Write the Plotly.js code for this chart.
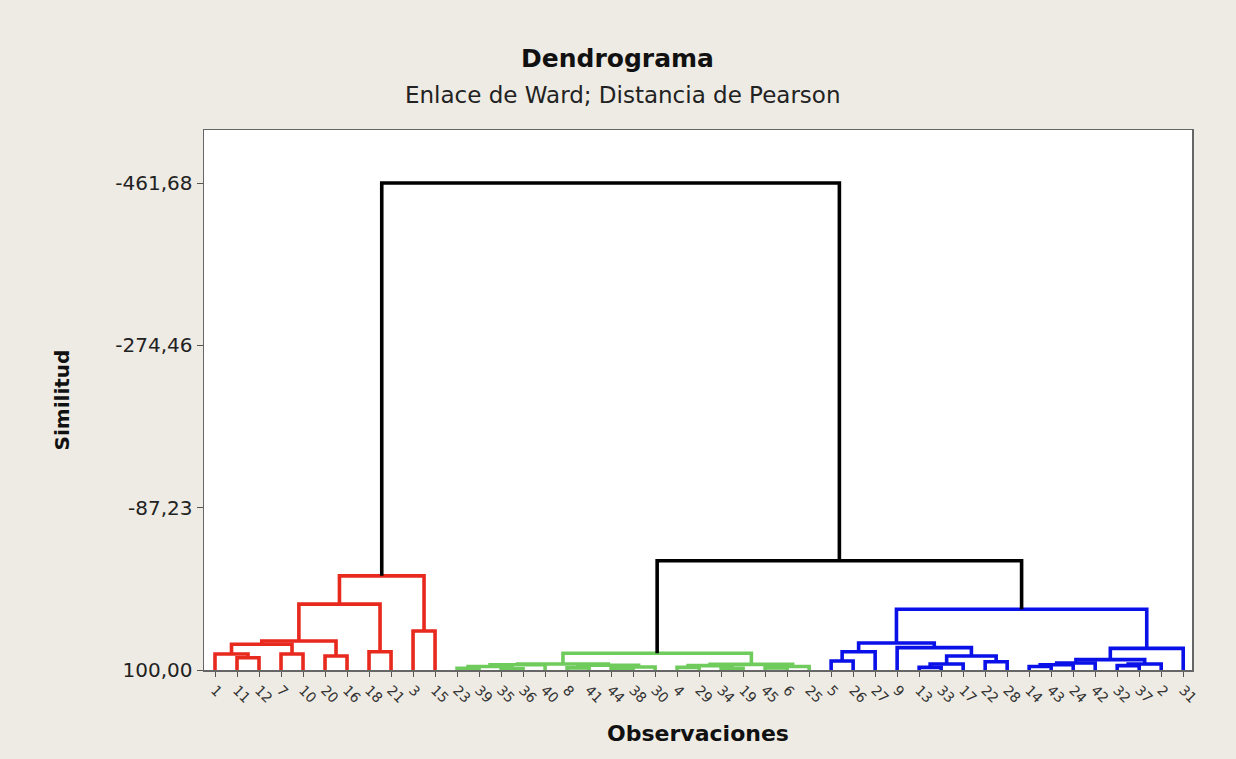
<!DOCTYPE html>
<html>
<head>
<meta charset="utf-8">
<script src="https://cdn.plot.ly/plotly-3.0.1.min.js"></script>
<style>html,body{margin:0;padding:0;background:#eeebe4;}#chart{width:1236px;height:759px;}</style>
</head>
<body>
<div id="chart"></div>
<script>
// Leaf labels in dendrogram order (observations)
const leafLabels = ["1","11","12","7","10","20","16","18","21","3","15",
  "23","39","35","36","40","8","41","44","38","30","4","29","34","19","45","6","25",
  "5","26","27","9","13","33","17","22","28","14","43","24","42","32","37","2","31"];

// Merges: node ids 0..44 are leaves, merge k creates node 45+k
const mergeLeft   = [1, 0, 3, 46, 5, 48, 7, 50, 9, 52,
  11, 13, 55, 57, 16, 18, 60, 59, 58, 21, 23, 64, 25, 67, 66, 63,
  28, 71, 32, 73, 35, 74, 31, 72, 37, 79, 80, 41, 82, 81, 84, 78,
  70, 54];
const mergeRight  = [2, 45, 4, 47, 6, 49, 8, 51, 10, 53,
  12, 14, 56, 15, 17, 19, 20, 61, 62, 22, 24, 65, 26, 27, 68, 69,
  29, 30, 33, 34, 36, 75, 76, 77, 38, 39, 40, 42, 43, 83, 44, 85,
  86, 87];
const mergeHeight = [85.8, 81.5, 81.5, 70.3, 83.8, 66.5, 78.9, 24.0, 55.0, -8.6,
  98.0, 98.5, 96.0, 94.0, 97.5, 98.0, 96.5, 94.5, 93.0, 97.0, 98.0, 95.0, 97.5, 96.0, 93.5, 80.7,
  89.6, 79.0, 97.0, 93.0, 90.4, 83.8, 74.2, 68.8, 96.0, 94.0, 92.0, 95.0, 93.0, 88.0, 75.0, 30.0,
  -26.0, -461.68];
const mergeGroup  = ["red","red","red","red","red","red","red","red","red","red",
  "green","green","green","green","green","green","green","green","green","green","green","green","green","green","green","green",
  "blue","blue","blue","blue","blue","blue","blue","blue","blue","blue","blue","blue","blue","blue","blue","blue",
  "black","black"];

const groupColors = {red:"#e8291e", green:"#6fcb5c", blue:"#0a10e8", black:"#000000"};
const leafBase = 100;

const yTickVals = [-461.68, -274.46, -87.23, 100];
const yTickText = ["-461,68", "-274,46", "-87,23", "100,00"];

// compute node positions
const nLeaves = leafLabels.length;
const nodeX = [], nodeY = [];
for (let i = 0; i < nLeaves; i++) { nodeX.push(i); nodeY.push(leafBase); }
for (let k = 0; k < mergeHeight.length; k++) {
  const a = mergeLeft[k], b = mergeRight[k];
  nodeX.push((nodeX[a] + nodeX[b]) / 2);
  nodeY.push(mergeHeight[k]);
}

const traces = [];
["red","green","blue","black"].forEach(g => {
  const xs = [], ys = [];
  for (let k = 0; k < mergeHeight.length; k++) {
    if (mergeGroup[k] !== g) continue;
    const a = mergeLeft[k], b = mergeRight[k], h = mergeHeight[k];
    xs.push(nodeX[a], nodeX[a], nodeX[b], nodeX[b], null);
    ys.push(nodeY[a], h, h, nodeY[b], null);
  }
  traces.push({x: xs, y: ys, type: "scatter", mode: "lines", hoverinfo: "skip",
    line: {color: groupColors[g], width: 3.6}, showlegend: false});
});

const layout = {
  width: 1236, height: 759,
  paper_bgcolor: "#eeebe4", plot_bgcolor: "#ffffff",
  margin: {l: 204, r: 44, t: 130, b: 89},
  font: {family: "DejaVu Sans, Verdana, sans-serif", color: "#111"},
  showlegend: false,
  xaxis: {
    range: [-0.5, 44.4], tickmode: "array",
    tickvals: leafLabels.map((_, i) => i), ticktext: leafLabels,
    tickangle: 45, tickfont: {size: 14, color: "#333"},
    ticks: "outside", ticklen: 5, tickcolor: "#555", tickwidth: 1,
    showgrid: false, zeroline: false,
    showline: true, mirror: true, linecolor: "#666", linewidth: 1.5,
    title: {text: "<b>Observaciones</b>", font: {size: 22, color: "#111"}, standoff: 20}
  },
  yaxis: {
    range: [100, -522.9], tickmode: "array",
    tickvals: yTickVals, ticktext: yTickText,
    tickfont: {size: 20, color: "#222"},
    ticks: "outside", ticklen: 6, tickcolor: "#555", tickwidth: 1,
    showgrid: false, zeroline: false,
    showline: true, mirror: true, linecolor: "#666", linewidth: 1.5,
    title: {text: "<b>Similitud</b>", font: {size: 20, color: "#111"}, standoff: 40}
  },
  annotations: [
    {text: "<b>Dendrograma</b>", xref: "paper", yref: "paper", x: 0.419, y: 1.1333,
     xanchor: "center", yanchor: "middle", showarrow: false, font: {size: 25, color: "#111"}},
    {text: "Enlace de Ward; Distancia de Pearson", xref: "paper", yref: "paper", x: 0.424, y: 1.0648,
     xanchor: "center", yanchor: "middle", showarrow: false, font: {size: 23, color: "#222"}}
  ]
};

Plotly.newPlot("chart", traces, layout, {displayModeBar: false, staticPlot: true});
</script>
</body>
</html>
